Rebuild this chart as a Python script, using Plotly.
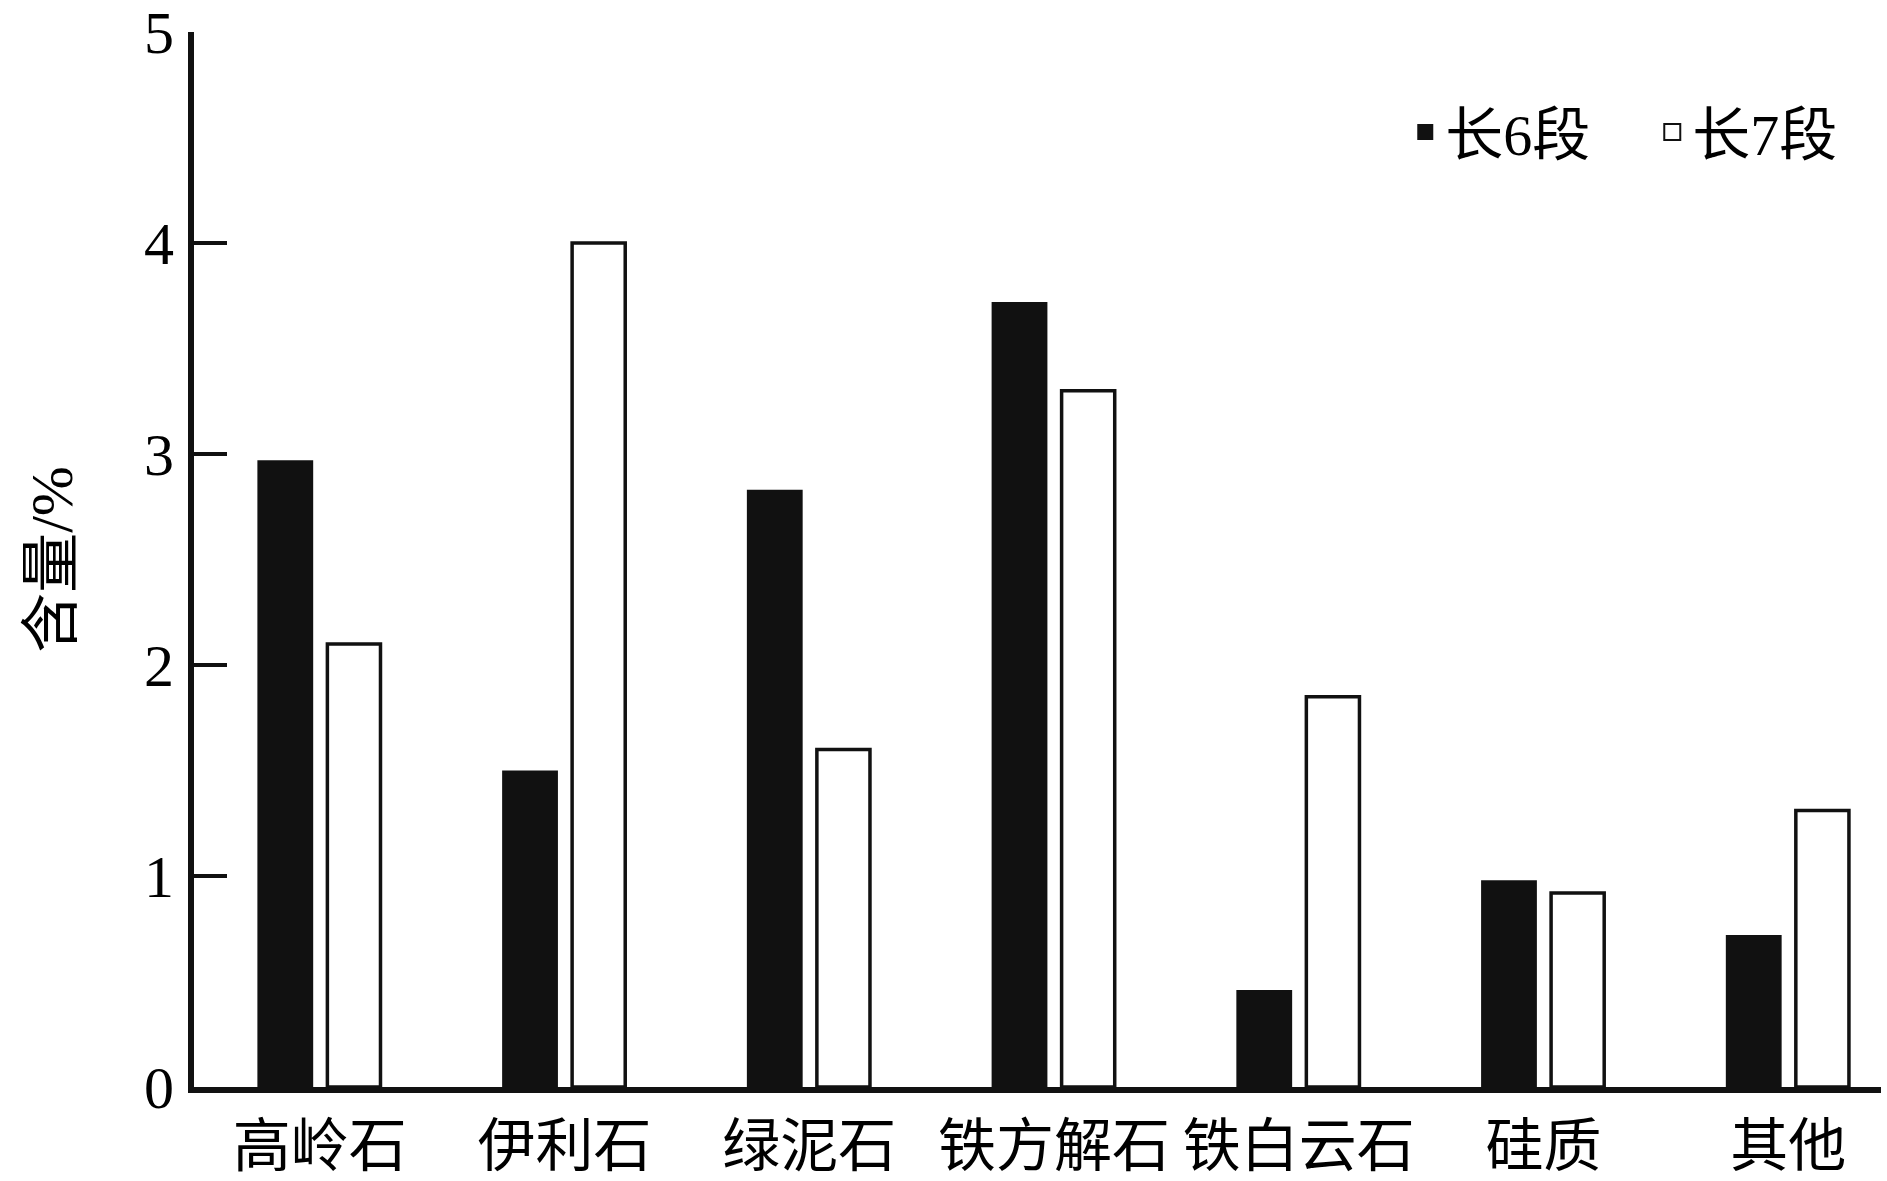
import plotly.graph_objects as go

categories = ["高岭石", "伊利石", "绿泥石", "铁方解石", "铁白云石", "硅质", "其他"]
series_names = ["长6段", "长7段"]
chang6 = [2.97, 1.50, 2.83, 3.72, 0.46, 0.98, 0.72]
chang7 = [2.10, 4.00, 1.60, 3.30, 1.85, 0.92, 1.31]
y_ticks = [0, 1, 2, 3, 4, 5]

FONT = "Liberation Serif, 'Noto Sans CJK SC', serif"
BLACK = "#111111"

fig = go.Figure()
fig.add_trace(go.Bar(
    x=categories, y=chang6, name=series_names[0], showlegend=False,
    marker=dict(color=BLACK, line=dict(width=0)),
    width=0.228, offset=-0.255,
))
fig.add_trace(go.Bar(
    x=categories, y=chang7, name=series_names[1], showlegend=False,
    marker=dict(color="white", line=dict(color=BLACK, width=3.5)),
    width=0.217, offset=0.031,
))
# legend entries
fig.add_trace(go.Scatter(
    x=[None], y=[None], mode="markers", name=series_names[0],
    marker=dict(symbol="square", size=16, color=BLACK, line=dict(width=0)),
))
fig.add_trace(go.Scatter(
    x=[None], y=[None], mode="markers", name=series_names[1],
    marker=dict(symbol="square", size=16, color="white", line=dict(color=BLACK, width=2)),
))

fig.update_layout(
    width=1887, height=1181,
    margin=dict(l=194, r=6, t=32, b=94, autoexpand=False),
    paper_bgcolor="white", plot_bgcolor="white",
    barmode="overlay",
    font=dict(family=FONT, size=58, color="black"),
    showlegend=True,
    legend=dict(
        orientation="h", x=0.718, xanchor="left", y=0.905, yanchor="middle",
        bgcolor="rgba(0,0,0,0)", font=dict(family=FONT, size=58),
        itemwidth=30, entrywidth=202,
    ),
    xaxis=dict(
        type="category", range=[-0.514, 6.379], automargin=False,
        showline=True, linecolor=BLACK, linewidth=6,
        ticks="", showgrid=False, zeroline=False,
        tickfont=dict(family=FONT, size=58),
        ticklabelstandoff=3,
    ),
    yaxis=dict(
        range=[0, 5], tickvals=y_ticks, automargin=False,
        showline=True, linecolor=BLACK, linewidth=6,
        ticks="inside", ticklen=33, tickwidth=4, tickcolor=BLACK,
        showgrid=False, zeroline=False,
        tickfont=dict(family=FONT, size=60),
        ticklabelstandoff=2,
        title=dict(text="含量/%", font=dict(family=FONT, size=60), standoff=54),
    ),
)

fig.write_html("out.html", config={"displayModeBar": False},
               post_script="document.body.style.margin='0';")
